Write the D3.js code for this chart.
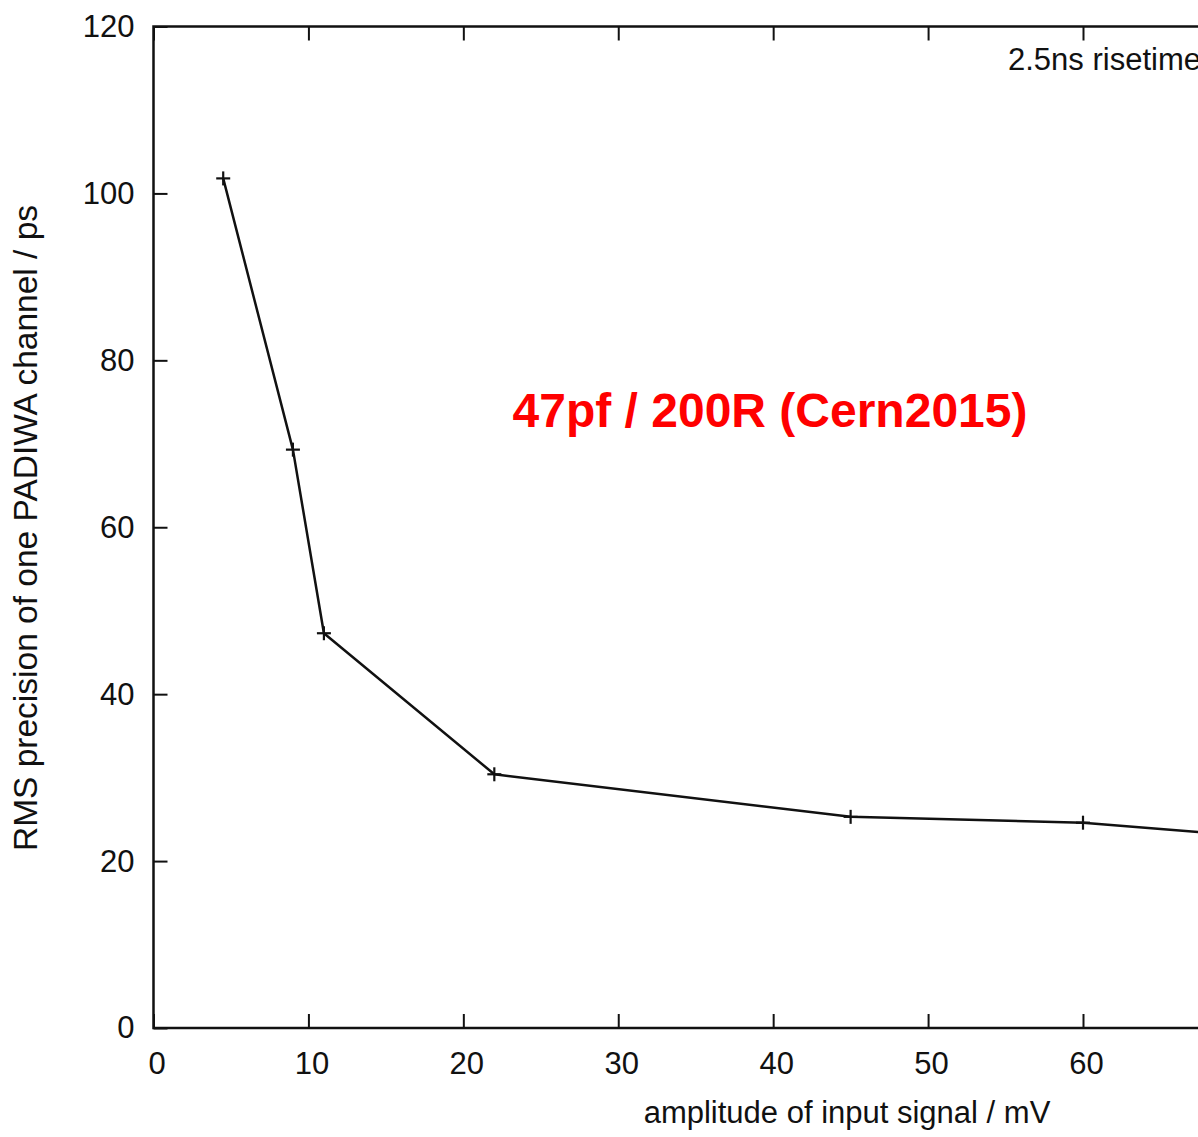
<!DOCTYPE html>
<html>
<head>
<meta charset="utf-8">
<script src="https://cdn.jsdelivr.net/npm/d3@7"></script>
<style>
  html, body { margin: 0; padding: 0; background: #fff; overflow: hidden; }
  svg { display: block; }
  text { font-family: "Liberation Sans", Arial, sans-serif; fill: #111; }
</style>
</head>
<body>
<svg id="chart" width="1198" height="1137"></svg>
<script>
// ---- data ----
const amplitudes = [4.5, 9, 11, 22, 45, 60, 80];          // mV
const rmsPrecision = [101.8, 69.3, 47.3, 30.4, 25.3, 24.6, 21.6]; // ps
const xTicks = [0, 10, 20, 30, 40, 50, 60];
const yTicks = [0, 20, 40, 60, 80, 100, 120];
const xLabel = "amplitude of input signal / mV";
const yLabel = "RMS precision of one PADIWA channel / ps";
const keyLabel = "2.5ns risetime";
const annotation = "47pf / 200R (Cern2015)";

// ---- layout ----
const svg = d3.select("#chart");
const plotLeft = 153.5, plotTop = 26.5, plotBottom = 1028;
const x = d3.scaleLinear().domain([0, 60]).range([plotLeft, 1083]);
const y = d3.scaleLinear().domain([0, 120]).range([plotBottom, plotTop]);
const plotRight = x(80);
const tickLen = 14;
const FONT = '"Liberation Sans", Arial, sans-serif';

// frame
svg.append("rect")
  .attr("x", plotLeft).attr("y", plotTop)
  .attr("width", plotRight - plotLeft).attr("height", plotBottom - plotTop)
  .attr("fill", "none").attr("stroke", "#111").attr("stroke-width", 2.5);

// bottom axis ticks (inward) + labels
const xAxisB = d3.axisBottom(x).tickValues(xTicks).tickSize(-tickLen).tickPadding(18)
  .tickFormat(d3.format("d"));
const gxb = svg.append("g").attr("transform", `translate(0,${plotBottom})`).call(xAxisB);
gxb.select(".domain").remove();
gxb.selectAll(".tick line").attr("stroke", "#111").attr("stroke-width", 2);
gxb.selectAll(".tick text")
  .attr("font-size", 31).attr("dx", 3).attr("dy", "0.9em")
  .style("font-family", FONT).attr("fill", "#111");

// top axis ticks (inward, no labels)
const xAxisT = d3.axisTop(x).tickValues(xTicks).tickSize(-tickLen).tickFormat("");
const gxt = svg.append("g").attr("transform", `translate(0,${plotTop})`).call(xAxisT);
gxt.select(".domain").remove();
gxt.selectAll(".tick line").attr("stroke", "#111").attr("stroke-width", 2);

// left axis
const yAxisL = d3.axisLeft(y).tickValues(yTicks).tickSize(-tickLen).tickPadding(19)
  .tickFormat(d3.format("d"));
const gyl = svg.append("g").attr("transform", `translate(${plotLeft},0)`).call(yAxisL);
gyl.select(".domain").remove();
gyl.selectAll(".tick line").attr("stroke", "#111").attr("stroke-width", 2);
gyl.selectAll(".tick text")
  .attr("font-size", 31)
  .style("font-family", FONT).attr("fill", "#111");

// data
const data = amplitudes.map((a, i) => ({ a, v: rmsPrecision[i] }));
const line = d3.line().x(d => x(d.a)).y(d => y(d.v));
svg.append("path").datum(data)
  .attr("d", line).attr("fill", "none")
  .attr("stroke", "#111").attr("stroke-width", 2.5).attr("stroke-linejoin", "round");

const arm = 7;
const marks = svg.append("g").selectAll("g").data(data).join("g")
  .attr("transform", d => `translate(${x(d.a)},${y(d.v)})`);
marks.append("line").attr("x1", -arm).attr("x2", arm).attr("y1", 0).attr("y2", 0)
  .attr("stroke", "#111").attr("stroke-width", 2.2);
marks.append("line").attr("x1", 0).attr("x2", 0).attr("y1", -arm).attr("y2", arm)
  .attr("stroke", "#111").attr("stroke-width", 2.2);

// key text (cut at the right edge, as in the reference)
svg.append("text").attr("x", 1008).attr("y", 70)
  .attr("font-size", 31).text(keyLabel);

// axis labels
svg.append("text").attr("x", 847).attr("y", 1123)
  .attr("text-anchor", "middle").attr("font-size", 31).text(xLabel);
svg.append("text")
  .attr("transform", "translate(37,528) rotate(-90)")
  .attr("text-anchor", "middle").attr("font-size", 33.5).text(yLabel);

// annotation
svg.append("text").attr("x", 770).attr("y", 427)
  .attr("text-anchor", "middle").attr("font-size", 48).attr("font-weight", "bold")
  .style("fill", "#ff0000").text(annotation);
</script>
</body>
</html>
